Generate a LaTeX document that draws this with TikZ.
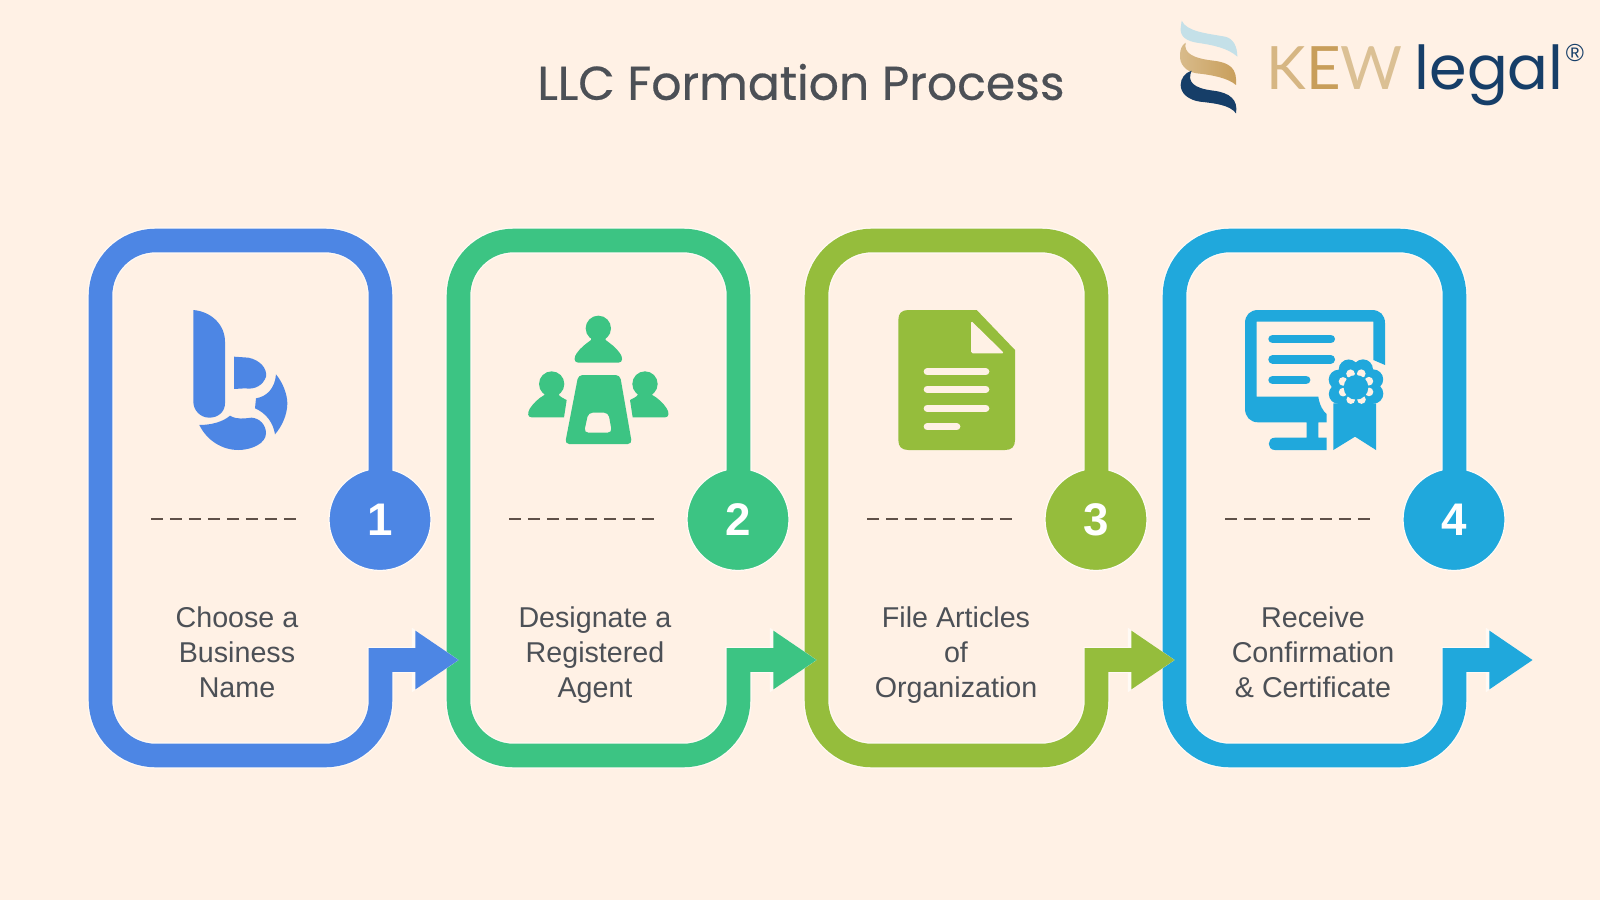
\documentclass[tikz,border=0pt]{standalone}
\usepackage{fontspec}
\setmainfont{Liberation Sans}
\newfontfamily\titlefont[FakeBold=0.5]{Poppins}
\newfontfamily\legalfont{Poppins}
\newfontfamily\logofont{Lato}
\usetikzlibrary{positioning, arrows.meta}

\definecolor{pagecolor}{RGB}{255,241,229}
\definecolor{halocolor}{RGB}{255,250,245}
\definecolor{bluestep}{RGB}{77,134,228}
\definecolor{greenstep}{RGB}{60,196,131}
\definecolor{olivestep}{RGB}{149,189,60}
\definecolor{cyanstep}{RGB}{32,168,220}
\definecolor{textcolor}{RGB}{76,80,86}
\definecolor{dashcolor}{RGB}{95,80,72}
\definecolor{navylogo}{RGB}{22,62,104}
\definecolor{paleblue}{RGB}{196,224,232}
\definecolor{goldlogo}{RGB}{200,158,90}

\tikzset{
    badge/.style={circle, minimum size=102*0.01cm, inner sep=0pt, draw=halocolor, line width=0.35pt, text=white, font=\bfseries\fontsize{13}{13}\selectfont},
    steplabel/.style={align=center, anchor=north, text=textcolor, inner sep=0pt, font=\fontsize{8.15}{10}\selectfont},
    dashrule/.style={draw=dashcolor, line width=0.8pt, dash pattern=on 3.41pt off 1.99pt},
    iconline/.style={line width=#1, line cap=round}
}

% Loop of one step, from above its badge round to its arrow
\newcommand{\frameloop}{
    -- (380.5,295.5) .. controls (380.5,265.1) and (355.9,240.5) .. (325.5,240.5)
    -- (155.5,240.5) .. controls (125.1,240.5) and (100.5,265.1) .. (100.5,295.5)
    -- (100.5,700.5) .. controls (100.5,730.9) and (125.1,755.5) .. (155.5,755.5)
    -- (325.5,755.5) .. controls (355.9,755.5) and (380.5,730.9) .. (380.5,700.5)
    -- (380.5,660)
}

\begin{document}
\begin{tikzpicture}[x=0.01cm, y=-0.01cm]
    \useasboundingbox (0,0) rectangle (1600,900);
    \fill[pagecolor] (0,0) rectangle (1600,900);

    % --- Title ---
    \node[text=textcolor, font=\titlefont\fontsize{13.45}{13.45}\selectfont] (title) at (801,82) {LLC Formation Process};

    % --- Steps, last one first so that each arrow lies over the next frame ---
    \foreach \n/\dx/\col/\lx/\txt in {
        4/1074/cyanstep/1313/{Receive\\Confirmation\\\& Certificate},
        3/716/olivestep/956/{File Articles\\of\\Organization},
        2/358/greenstep/595/{Designate a\\Registered\\Agent},
        1/0/bluestep/237/{Choose a\\Business\\Name}} {
        \begin{scope}[shift={(\dx,0)}]
            \coordinate (frame\n) at (380.5,490);
            \coordinate (tip\n) at (459,660);

            % Halo under the line
            \draw[halocolor, line width=7.4pt, -{Triangle[length=13.4pt, width=17.4pt]}]
                (frame\n) \frameloop -- (tip\n);

            \node[badge, fill=\col] (badge\n) at (380,519.5) {\n};

            % Frame, ending in the arrow
            \draw[\col, line width=6.7pt, -{Triangle[length=12.4pt, width=15.8pt]}]
                (frame\n) \frameloop -- (tip\n);

            % Rule
            \draw[dashrule] (151,519) -- (296,519);
        \end{scope}
        \node[steplabel] (label\n) at (\lx,606) {\txt};
    }

    % --- Icon 1 ---
    \begin{scope}[shift={(180,295)}, scale=1/3]
        \fill[bluestep] (40,45) .. controls (95,50) and (135,90) .. (135,140) -- (135,325) .. controls (135,350) and (115,368) .. (88,368) .. controls (60,368) and (40,345) .. (40,320) -- cycle;
        \fill[bluestep] (162,185) -- (205,188) .. controls (240,195) and (262,220) .. (258,245) .. controls (250,270) and (225,285) .. (195,280) -- (162,282) -- cycle;
        \fill[bluestep] (288,238) .. controls (310,265) and (322,300) .. (322,325) .. controls (322,360) and (305,395) .. (285,418) .. controls (280,385) and (260,355) .. (225,340) -- (228,310) .. controls (260,305) and (285,280) .. (288,238) -- cycle;
        \fill[bluestep] (58,390) .. controls (95,390) and (130,380) .. (150,362) .. controls (170,375) and (195,370) .. (215,368) .. controls (240,370) and (258,390) .. (258,415) .. controls (258,445) and (215,465) .. (175,465) .. controls (125,465) and (80,435) .. (58,390) -- cycle;
    \end{scope}

    % --- Icon 2 ---
    \begin{scope}[shift={(510,290)}, scale=1/3]
        \fill[greenstep] (265,115) circle[radius=38];
        \fill[greenstep] (205,218) -- (325,218) .. controls (340,218) and (338,200) .. (330,190) .. controls (318,172) and (300,160) .. (287,150) -- (287,135) -- (243,135) -- (243,150) .. controls (230,160) and (212,172) .. (200,190) .. controls (192,200) and (190,218) .. (205,218) -- cycle;
        \fill[greenstep] (125,282) circle[radius=38];
        \fill[greenstep] (65,382) -- (162,382) -- (170,330) .. controls (160,325) and (150,320) .. (147,315) -- (147,300) -- (103,300) -- (103,315) .. controls (85,325) and (70,340) .. (60,355) .. controls (52,368) and (52,382) .. (65,382) -- cycle;
        \fill[greenstep] (405,282) circle[radius=38];
        \fill[greenstep] (465,382) -- (368,382) -- (360,330) .. controls (370,325) and (380,320) .. (383,315) -- (383,300) -- (427,300) -- (427,315) .. controls (445,325) and (460,340) .. (470,355) .. controls (478,368) and (478,382) .. (465,382) -- cycle;
        \fill[greenstep, even odd rule, rounded corners=1.2pt] (205,255) -- (330,255) -- (366,462) -- (165,462) -- cycle
            (235,368) -- (295,368) -- (306,428) -- (222,428) -- cycle;
    \end{scope}

    % --- Icon 3 ---
    \begin{scope}[shift={(870,290)}, scale=1/3]
        \fill[olivestep] (115,60) -- (320,60) -- (435,180) -- (435,450) .. controls (435,470) and (425,480) .. (405,480) -- (115,480) .. controls (95,480) and (85,470) .. (85,450) -- (85,90) .. controls (85,70) and (95,60) .. (115,60) -- cycle;
        \fill[pagecolor, rounded corners=0.5pt] (303,92) -- (403,190) -- (303,190) -- cycle;
        \foreach \yy/\xe in {245/347, 298/347, 355/347, 410/260} {
            \draw[pagecolor, iconline=2.1pt] (172,\yy) -- (\xe,\yy);
        }
    \end{scope}

    % --- Icon 4 ---
    \begin{scope}[shift={(1230,290)}, scale=1/3]
        \fill[cyanstep] (430,210) -- (430,95) -- (80,95) -- (80,320) -- (265,320) .. controls (268,345) and (280,365) .. (290,372) -- (290,397) -- (265,397) -- (265,443) -- (290,443) -- (290,480) -- (135,480) .. controls (110,480) and (110,443) .. (135,443) -- (230,443) -- (230,397) -- (85,397) .. controls (60,397) and (45,380) .. (45,355) -- (45,100) .. controls (45,75) and (60,60) .. (85,60) -- (425,60) .. controls (450,60) and (465,75) .. (465,100) -- (465,225) -- cycle;
        \foreach \yy/\xe in {147/302, 208/302, 270/228} {
            \draw[cyanstep, iconline=2.5pt] (128,\yy) -- (\xe,\yy);
        }
        \fill[cyanstep] (310,340) -- (310,480) -- (375,440) -- (438,480) -- (438,340) -- cycle;
        \foreach \a in {0,45,...,315} {
            \fill[cyanstep] (378,290) ++(\a+22:56) circle[radius=30];
        }
        \foreach \a in {0,45,...,315} {
            \fill[pagecolor] (378,290) ++(\a+22:42) circle[radius=13];
        }
        \fill[cyanstep] (378,292) circle[radius=37];
    \end{scope}

    % --- Logo ---
    \begin{scope}[shift={(1150,0)}, scale=1/3]
        \fill[paleblue] (95,62) .. controls (110,95) and (170,100) .. (225,110) .. controls (250,115) and (262,140) .. (262,170) .. controls (235,145) and (190,135) .. (140,128) .. controls (110,123) and (90,110) .. (92,85) -- cycle;
        \shade[left color=goldlogo!70!white, right color=goldlogo] (107,128) .. controls (100,160) and (130,175) .. (190,182) .. controls (240,188) and (262,205) .. (258,255) .. controls (235,235) and (190,225) .. (140,220) .. controls (105,215) and (88,190) .. (90,165) .. controls (90,150) and (95,135) .. (107,128) -- cycle;
        \fill[navylogo] (125,212) .. controls (110,245) and (130,265) .. (190,272) .. controls (240,278) and (265,300) .. (258,340) .. controls (240,315) and (195,310) .. (150,305) .. controls (115,300) and (92,280) .. (92,255) .. controls (92,235) and (105,218) .. (125,212) -- cycle;
    \end{scope}
    \node[anchor=base west, inner sep=0pt, font=\logofont\fontsize{17}{17}\selectfont] (kew) at (1266,90) {\textcolor{goldlogo!75!white}{K}\textcolor{goldlogo}{E}\textcolor{goldlogo!65!white}{W}};
    \node[anchor=base west, inner sep=0pt, text=navylogo, font=\legalfont\fontsize{17.2}{17.2}\selectfont] (legal) at (1414,90) {legal};
    \node[anchor=center, inner sep=0pt, text=navylogo, font=\fontsize{7}{7}\selectfont] (regmark) at (1575,53) {®};
\end{tikzpicture}
\end{document}
